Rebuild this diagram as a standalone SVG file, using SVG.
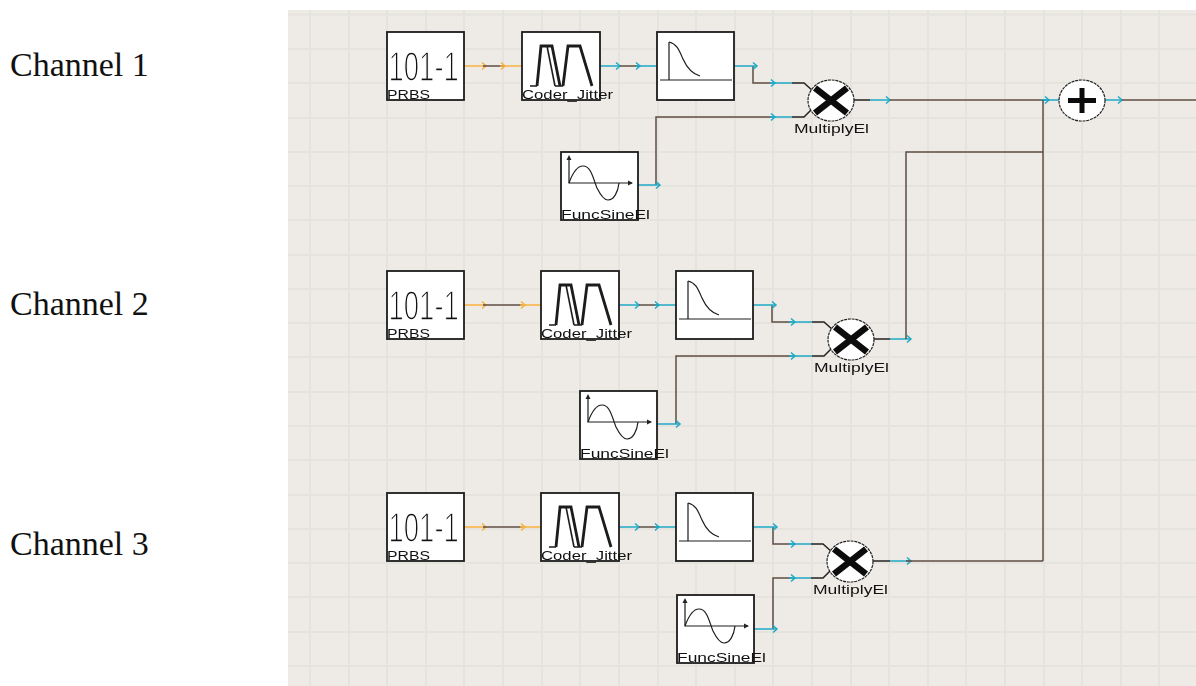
<svg xmlns="http://www.w3.org/2000/svg" xmlns:xlink="http://www.w3.org/1999/xlink" width="1196" height="686" viewBox="0 0 1196 686">
<style>
.ch{font-family:"Liberation Serif","Times New Roman",serif;font-size:34px;fill:#111}
.lb{font-family:"Liberation Sans",Arial,sans-serif;font-size:12.5px;fill:#111;filter:url(#gray)}
.dg{font-family:"Liberation Sans",Arial,sans-serif;font-size:43px;fill:#111;stroke:#fff;stroke-width:1.6px;paint-order:fill stroke;filter:url(#gray)}
.box{fill:#fff;stroke:#1c1c1c;stroke-width:1.8}
.ic{fill:none;stroke:#1c1c1c;stroke-width:1.2}
.grid{stroke:#e5e3de;stroke-width:2;fill:none}
.o,.c,.b,.k{fill:none;stroke-width:1.5}
.o{stroke:#f7b23f}.c{stroke:#1fa9c6}.b{stroke:#5f4d43}.k{stroke:#222}
.circ{fill:#fff;stroke:#222;stroke-width:1.2;stroke-dasharray:3 .8}
.sym{fill:none;stroke:#0c0c0c;stroke-linecap:butt}
</style>
<defs>
<filter id="gray" x="-5%" y="-20%" width="110%" height="140%"><feOffset dx="0" dy="0"/></filter>
<marker id="ao" viewBox="-6 -5 8 10" refX="0" refY="0" markerWidth="8" markerHeight="10" markerUnits="userSpaceOnUse" orient="auto"><path d="M-4,-3.5 L0,0 L-4,3.5" fill="none" stroke="#f7b23f" stroke-width="1.5"/></marker>
<marker id="ac" viewBox="-6 -5 8 10" refX="0" refY="0" markerWidth="8" markerHeight="10" markerUnits="userSpaceOnUse" orient="auto"><path d="M-4,-3.5 L0,0 L-4,3.5" fill="none" stroke="#1fa9c6" stroke-width="1.5"/></marker>
<g id="icoCoder">
<rect class="box" width="78" height="68"/>
<path class="ic" style="stroke-width:1.3" d="M8,54 H15 M33,54 H41"/>
<path class="ic" style="stroke-width:2.8" d="M15,54 L19,14 H30 L38,54 M41,54 L46,14 H58 L70,54"/>
<path class="ic" style="stroke-width:1.6" d="M25,14 L33,54"/>
</g>
<g id="icoFilter">
<rect class="box" width="77" height="68"/>
<path class="ic" d="M12,10 V48 M3,48 H75"/>
<path class="ic" d="M12,10 C20,12 22,18 26,27 C30,36 36,42 43,44"/>
</g>
<g id="icoSine">
<rect class="box" width="77" height="68"/>
<path class="ic" d="M8,5 V31 H71"/>
<path d="M8,3 l-2.5,5 h5 z M72,31 l-5,-2.500 v5 z" fill="#222"/>
<path class="ic" d="M8,31 C12,20 17,14 22,14 C30,14 32,26 36,36 C40,44 43,48 47,48 C53,48 57,40 58,31"/>
</g>
</defs>
<g id="background">
<rect x="288" y="10" width="908" height="676" fill="#eeebe6"/>
<path class="grid" d="M310,10V686M349,10V686M387,10V686M426,10V686M464,10V686M503,10V686M542,10V686M580,10V686M619,10V686M658,10V686M696,10V686M735,10V686M773,10V686M812,10V686M851,10V686M889,10V686M928,10V686M966,10V686M1005,10V686M1044,10V686M1082,10V686M1121,10V686M1159,10V686"/>
<path class="grid" d="M288,14.500H1196M288,49H1196M288,83H1196M288,118H1196M288,152H1196M288,186H1196M288,220H1196M288,255H1196M288,289H1196M288,323H1196M288,357H1196M288,392H1196M288,426H1196M288,460H1196M288,495H1196M288,529H1196M288,563H1196M288,597H1196M288,632H1196M288,666H1196"/>
</g>
<g id="connectors">
<!-- channel 1 -->
<path class="o" d="M464,66H486" marker-end="url(#ao)"/><path class="b" d="M483,66H504"/><path class="o" d="M504,66H522"/><path class="o" d="M500,66H505" marker-end="url(#ao)"/>
<path class="c" d="M600,66H620" marker-end="url(#ac)"/><path class="b" d="M620,66H640"/><path class="c" d="M636,66H657"/><path class="c" d="M636,66H640" marker-end="url(#ac)"/>
<path class="b" d="M753,66V83H771"/><path class="c" d="M734,66H757" marker-end="url(#ac)"/><path class="c" d="M770,83H792"/><path class="c" d="M770,83H775" marker-end="url(#ac)"/><path class="k" d="M792,83H804L813,91"/>
<path class="b" d="M656,185V117H772"/><path class="c" d="M638,185H660" marker-end="url(#ac)"/><path class="c" d="M770,117H792"/><path class="c" d="M770,117H775" marker-end="url(#ac)"/><path class="k" d="M792,117H804L812,109"/>
<path class="k" d="M853,100H870"/><path class="c" d="M870,100H890" marker-end="url(#ac)"/><path class="b" d="M890,100H1043"/><path class="c" d="M1041,100H1059"/><path class="c" d="M1041,100H1049" marker-end="url(#ac)"/>
<path class="c" d="M1105,100H1122" marker-end="url(#ac)"/><path class="b" d="M1122,100H1196"/>
<path class="b" d="M1043,100V561"/>
<!-- channel 2 -->
<path class="o" d="M464,305H486" marker-end="url(#ao)"/><path class="b" d="M483,305H522"/><path class="o" d="M522,305H541"/><path class="o" d="M520,305H525" marker-end="url(#ao)"/>
<path class="c" d="M618,305H639" marker-end="url(#ac)"/><path class="b" d="M639,305H659"/><path class="c" d="M655,305H676"/><path class="c" d="M655,305H659" marker-end="url(#ac)"/>
<path class="b" d="M772,305V322H791"/><path class="c" d="M753,305H776" marker-end="url(#ac)"/><path class="c" d="M789,322H812"/><path class="c" d="M789,322H795" marker-end="url(#ac)"/><path class="k" d="M812,322H824L833,330"/>
<path class="b" d="M676,424V356H791"/><path class="c" d="M657,424H680" marker-end="url(#ac)"/><path class="c" d="M789,356H812"/><path class="c" d="M789,356H795" marker-end="url(#ac)"/><path class="k" d="M812,356H824L832,348"/>
<path class="k" d="M873,339H890"/><path class="c" d="M890,339H911" marker-end="url(#ac)"/><path class="b" d="M906,339V152H1043"/>
<!-- channel 3 -->
<path class="o" d="M464,527H486" marker-end="url(#ao)"/><path class="b" d="M483,527H522"/><path class="o" d="M522,527H541"/><path class="o" d="M520,527H525" marker-end="url(#ao)"/>
<path class="c" d="M618,527H639" marker-end="url(#ac)"/><path class="b" d="M639,527H659"/><path class="c" d="M655,527H676"/><path class="c" d="M655,527H659" marker-end="url(#ac)"/>
<path class="b" d="M773,527V544H791"/><path class="c" d="M753,527H777" marker-end="url(#ac)"/><path class="c" d="M789,544H811"/><path class="c" d="M789,544H795" marker-end="url(#ac)"/><path class="k" d="M811,544H823L832,552"/>
<path class="b" d="M773,629V578H791"/><path class="c" d="M754,629H777" marker-end="url(#ac)"/><path class="c" d="M789,578H811"/><path class="c" d="M789,578H795" marker-end="url(#ac)"/><path class="k" d="M811,578H823L831,570"/>
<path class="k" d="M873,561H890"/><path class="c" d="M890,561H911" marker-end="url(#ac)"/><path class="b" d="M906,561H1043"/>
</g>
<g id="ch-labels">
<text class="ch" x="10" y="76">Channel 1</text>
<text class="ch" x="10" y="315">Channel 2</text>
<text class="ch" x="10" y="555">Channel 3</text>
</g>
<g id="prbs1" transform="translate(387,32)"><rect class="box" width="77" height="68"/><text class="dg" transform="translate(1.500,49) scale(.64,1)">101-1</text><text class="lb" y="67" textLength="43" lengthAdjust="spacingAndGlyphs">PRBS</text></g>
<g id="coder1" transform="translate(522,32)"><use xlink:href="#icoCoder" href="#icoCoder"/><text class="lb" y="67" textLength="91" lengthAdjust="spacingAndGlyphs">Coder_Jitter</text></g>
<g id="filter1" transform="translate(657,32)"><use xlink:href="#icoFilter" href="#icoFilter"/></g>
<g id="sine1" transform="translate(561,152)"><use xlink:href="#icoSine" href="#icoSine"/><text class="lb" y="67" textLength="89" lengthAdjust="spacingAndGlyphs">FuncSineEl</text></g>
<g id="mult1" transform="translate(831,100.500)"><ellipse class="circ" rx="23" ry="20.500"/><path class="sym" stroke-width="6.500" d="M-16,-12.500L16,12.500M16,-12.500L-16,12.500"/><text class="lb" x="-37" y="32" textLength="75" lengthAdjust="spacingAndGlyphs">MultiplyEl</text></g>
<g id="add" transform="translate(1082,100.500)"><ellipse class="circ" rx="23" ry="20.500"/><path class="sym" stroke-width="5" d="M-14,0H14M0,-12.500V12.500"/></g>
<g id="prbs2" transform="translate(387,271)"><rect class="box" width="77" height="68"/><text class="dg" transform="translate(1.500,49) scale(.64,1)">101-1</text><text class="lb" y="67" textLength="43" lengthAdjust="spacingAndGlyphs">PRBS</text></g>
<g id="coder2" transform="translate(541,271)"><use xlink:href="#icoCoder" href="#icoCoder"/><text class="lb" y="67" textLength="91" lengthAdjust="spacingAndGlyphs">Coder_Jitter</text></g>
<g id="filter2" transform="translate(676,271)"><use xlink:href="#icoFilter" href="#icoFilter"/></g>
<g id="sine2" transform="translate(580,391)"><use xlink:href="#icoSine" href="#icoSine"/><text class="lb" y="67" textLength="89" lengthAdjust="spacingAndGlyphs">FuncSineEl</text></g>
<g id="mult2" transform="translate(851,339.500)"><ellipse class="circ" rx="23" ry="20.500"/><path class="sym" stroke-width="6.500" d="M-16,-12.500L16,12.500M16,-12.500L-16,12.500"/><text class="lb" x="-37" y="32" textLength="75" lengthAdjust="spacingAndGlyphs">MultiplyEl</text></g>
<g id="prbs3" transform="translate(387,493)"><rect class="box" width="77" height="68"/><text class="dg" transform="translate(1.500,49) scale(.64,1)">101-1</text><text class="lb" y="67" textLength="43" lengthAdjust="spacingAndGlyphs">PRBS</text></g>
<g id="coder3" transform="translate(541,493)"><use xlink:href="#icoCoder" href="#icoCoder"/><text class="lb" y="67" textLength="91" lengthAdjust="spacingAndGlyphs">Coder_Jitter</text></g>
<g id="filter3" transform="translate(676,493)"><use xlink:href="#icoFilter" href="#icoFilter"/></g>
<g id="sine3" transform="translate(677,595)"><use xlink:href="#icoSine" href="#icoSine"/><text class="lb" y="67" textLength="89" lengthAdjust="spacingAndGlyphs">FuncSineEl</text></g>
<g id="mult3" transform="translate(850,561.500)"><ellipse class="circ" rx="23" ry="20.500"/><path class="sym" stroke-width="6.500" d="M-16,-12.500L16,12.500M16,-12.500L-16,12.500"/><text class="lb" x="-37" y="32" textLength="75" lengthAdjust="spacingAndGlyphs">MultiplyEl</text></g>
</svg>
